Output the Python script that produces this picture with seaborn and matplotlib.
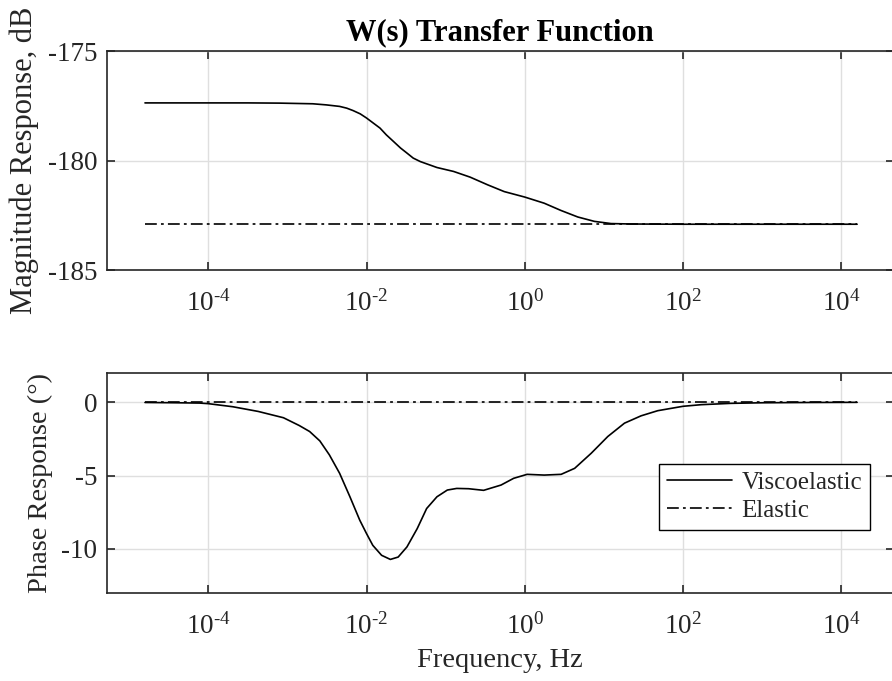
import matplotlib
matplotlib.use("Agg")
import matplotlib.pyplot as plt
import matplotlib.ticker as mticker
import numpy as np
import pandas as pd
import seaborn as sns

# Magnitude response (dB) of W(s), viscoelastic model
mag_freq_hz = [1.585e-5, 1e-4, 3.16e-4, 7.94e-4, 2.09e-3, 3.09e-3, 4.57e-3,
               5.62e-3, 6.76e-3, 8.32e-3, 1e-2, 1.48e-2, 1.78e-2, 2.19e-2,
               2.69e-2, 3.24e-2, 3.89e-2, 4.79e-2, 7.76e-2, 0.126, 0.204,
               0.339, 0.550, 1.0, 1.76, 2.86, 4.68, 7.59, 12.3, 22.4, 100.0,
               1000.0, 1.585e4]
mag_visco_db = [-177.37, -177.37, -177.37, -177.38, -177.41, -177.46, -177.53,
                -177.61, -177.72, -177.87, -178.06, -178.52, -178.83, -179.13,
                -179.43, -179.66, -179.89, -180.05, -180.32, -180.50, -180.76,
                -181.11, -181.42, -181.67, -181.95, -182.28, -182.58, -182.78,
                -182.88, -182.90, -182.91, -182.91, -182.91]

# Phase response (deg) of W(s), viscoelastic model
phase_freq_hz = [1.585e-5, 3.98e-5, 7.76e-5, 1e-4, 2.04e-4, 4.27e-4, 8.91e-4,
                 1.41e-3, 1.91e-3, 2.57e-3, 3.39e-3, 4.57e-3, 6.17e-3, 8.22e-3,
                 1e-2, 1.20e-2, 1.55e-2, 2.00e-2, 2.51e-2, 3.24e-2, 4.37e-2,
                 5.75e-2, 7.76e-2, 0.105, 0.138, 0.195, 0.302, 0.501, 0.724,
                 1.07, 1.76, 2.88, 4.27, 6.92, 11.2, 18.2, 29.5, 47.9, 100.0,
                 170.0, 398.0, 1000.0, 3980.0, 1.585e4]
phase_visco_deg = [-0.01, -0.03, -0.05, -0.09, -0.30, -0.62, -1.05,
                   -1.58, -1.99, -2.63, -3.58, -4.84, -6.44, -8.04,
                   -8.95, -9.75, -10.43, -10.71, -10.55, -9.86, -8.61,
                   -7.24, -6.44, -5.98, -5.87, -5.89, -6.00, -5.64, -5.18,
                   -4.91, -4.96, -4.91, -4.50, -3.47, -2.33, -1.42, -0.92,
                   -0.57, -0.27, -0.16, -0.07, -0.03, -0.01, 0.00]

# Elastic model: frequency independent
elastic_freq_hz = [1.585e-5, 1.585e4]
elastic_mag_db = [-182.91, -182.91]
elastic_phase_deg = [0.0, 0.0]

series_names = ["Viscoelastic", "Elastic"]
x_ticks = [1e-4, 1e-2, 1e0, 1e2, 1e4]
mag_ticks = [-185, -180, -175]
phase_ticks = [-10, -5, 0]

sns.set_theme(style="white")
SERIF = ["Liberation Serif", "DejaVu Serif"]
plt.rcParams["font.family"] = SERIF
plt.rcParams["mathtext.fontset"] = "custom"
plt.rcParams["mathtext.rm"] = "Liberation Serif"
plt.rcParams["mathtext.it"] = "Liberation Serif:italic"
plt.rcParams["mathtext.bf"] = "Liberation Serif:bold"
plt.rcParams["axes.unicode_minus"] = False
plt.rcParams["lines.scale_dashes"] = False

INK = "#262626"
GRID = "#dfdfdf"
TICK_FS = 19.5

mag_df = pd.DataFrame({"freq": mag_freq_hz + elastic_freq_hz,
                       "value": mag_visco_db + elastic_mag_db,
                       "model": [series_names[0]] * len(mag_freq_hz)
                       + [series_names[1]] * len(elastic_freq_hz)})
phase_df = pd.DataFrame({"freq": phase_freq_hz + elastic_freq_hz,
                         "value": phase_visco_deg + elastic_phase_deg,
                         "model": [series_names[0]] * len(phase_freq_hz)
                         + [series_names[1]] * len(elastic_freq_hz)})

fig = plt.figure(figsize=(8.92, 6.81), dpi=100)
W, H = 892.0, 681.0
ax_mag = fig.add_axes([107 / W, (H - 270) / H, 786.5 / W, 219 / H])
ax_ph = fig.add_axes([107 / W, (H - 593) / H, 786.5 / W, 220 / H])

dashdot = (0, (8.5, 3.0, 2.0, 3.0))


def log_label(val, pos):
    exp = int(round(np.log10(val)))
    sign = "\u2010" if exp < 0 else ""
    return r"$\mathregular{10^{%s%d}}$" % (sign, abs(exp))


for ax, df, yticks, ylim, ylabel, lab_fs in [
        (ax_mag, mag_df, mag_ticks, (-185, -175), "Magnitude Response, dB", 22),
        (ax_ph, phase_df, phase_ticks, (-13, 2), "Phase Response (\u00b0)", 20.5)]:
    sns.lineplot(data=df, x="freq", y="value", style="model",
                 style_order=series_names,
                 dashes={series_names[0]: "", series_names[1]: dashdot[1]},
                 color="black", linewidth=1.2, estimator=None, sort=False,
                 legend=False, ax=ax)
    ax.set_xscale("log")
    ax.set_xlim(10 ** -5.28, 10 ** 4.66)
    ax.set_ylim(*ylim)
    ax.xaxis.set_major_locator(mticker.FixedLocator(x_ticks))
    ax.xaxis.set_minor_locator(mticker.NullLocator())
    ax.xaxis.set_major_formatter(mticker.FuncFormatter(log_label))
    ax.set_yticks(yticks)
    ax.set_yticklabels([str(t) for t in yticks])
    ax.grid(True, color=GRID, linewidth=1.0)
    ax.set_axisbelow(True)
    for s in ax.spines.values():
        s.set_color(INK)
        s.set_linewidth(1.2)
        s.set_visible(True)
    ax.tick_params(axis="both", which="major", direction="in", length=5.5,
                   width=1.2, color=INK, labelcolor=INK, labelsize=TICK_FS,
                   top=True, right=True, bottom=True, left=True)
    ax.tick_params(axis="x", pad=14.5)
    ax.tick_params(axis="y", pad=7)
    ax.set_xlabel("")
    ax.set_ylabel(ylabel, fontsize=lab_fs, color=INK, labelpad=6)

ax_mag.set_title("W(s) Transfer Function", fontsize=22, fontweight="bold",
                 color="black", pad=8)
ax_ph.set_xlabel("Frequency, Hz", fontsize=20.5, color=INK, labelpad=6)

handles = [plt.Line2D([], [], color="black", linewidth=1.2),
           plt.Line2D([], [], color="black", linewidth=1.2,
                      linestyle=dashdot)]
leg = ax_ph.legend(handles, series_names, loc="upper left",
                   bbox_to_anchor=(0.702, 0.586), fontsize=18,
                   frameon=True, fancybox=False, framealpha=1.0,
                   edgecolor="black", handlelength=2.6, handletextpad=0.4,
                   borderpad=0.3, labelspacing=0.22, borderaxespad=0.0)
leg.get_frame().set_linewidth(1.0)

fig.savefig("out.png", dpi=100)
